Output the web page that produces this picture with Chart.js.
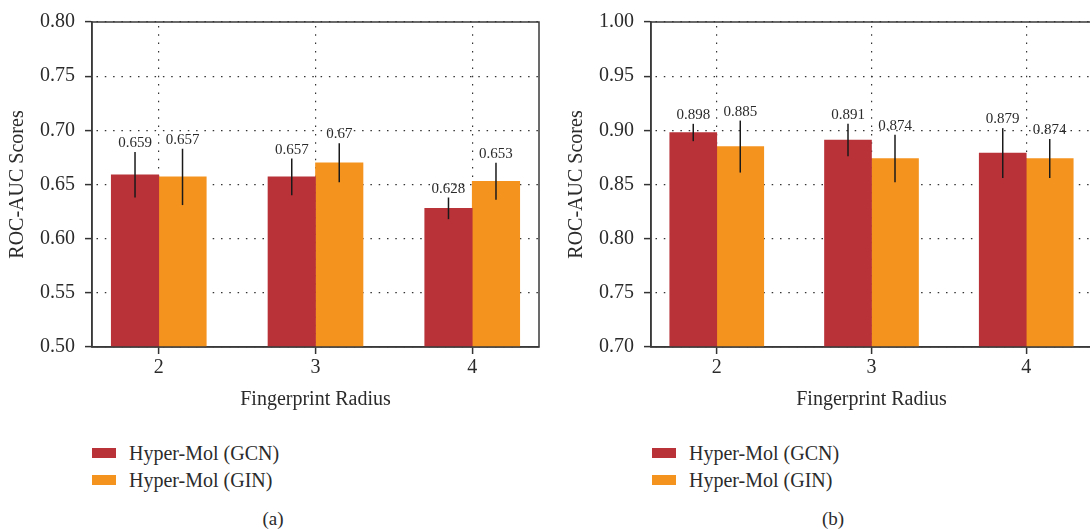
<!DOCTYPE html>
<html>
<head>
<meta charset="utf-8">
<script src="https://cdn.jsdelivr.net/npm/chart.js@4"></script>
<style>
  body { margin: 0; background: #fff; font-family: 'Liberation Serif', serif; color: #2b2b2b; }
  #wrap { position: relative; width: 1090px; height: 530px; overflow: hidden; }
  canvas { position: absolute; top: 0; }
  .row { position: absolute; height: 22px; display: flex; align-items: center; font-size: 20px; white-space: nowrap; }
  .sw { width: 24px; height: 9.5px; margin-right: 13px; }
  .cap { position: absolute; width: 60px; text-align: center; font-size: 19px; line-height: 22px; }
</style>
</head>
<body>
<div id="wrap">
  <canvas id="chartA" width="545" height="420" style="left:0"></canvas>
  <canvas id="chartB" width="539" height="420" style="left:559px"></canvas>

  <div class="row" style="left:92px;top:442px"><div class="sw" style="background:#b83238"></div>Hyper-Mol (GCN)</div>
  <div class="row" style="left:92px;top:469px"><div class="sw" style="background:#f5931f"></div>Hyper-Mol (GIN)</div>
  <div class="cap" style="left:243px;top:508px">(a)</div>

  <div class="row" style="left:652px;top:442px"><div class="sw" style="background:#b83238"></div>Hyper-Mol (GCN)</div>
  <div class="row" style="left:652px;top:469px"><div class="sw" style="background:#f5931f"></div>Hyper-Mol (GIN)</div>
  <div class="cap" style="left:803px;top:508px">(b)</div>
</div>
<script>
const radii = [2, 3, 4];
const seriesNames = ["Hyper-Mol (GCN)", "Hyper-Mol (GIN)"];
const colors = ["#b83238", "#f5931f"];

// panel (a)
const gcnA = [0.659, 0.657, 0.628];
const ginA = [0.657, 0.67, 0.653];
const gcnErrA = [0.021, 0.017, 0.010];
const ginErrA = [0.026, 0.018, 0.017];
const yTicksA = [0.5, 0.55, 0.6, 0.65, 0.7, 0.75, 0.8];

// panel (b)
const gcnB = [0.898, 0.891, 0.879];
const ginB = [0.885, 0.874, 0.874];
const gcnErrB = [0.008, 0.015, 0.023];
const ginErrB = [0.024, 0.022, 0.018];
const yTicksB = [0.7, 0.75, 0.8, 0.85, 0.9, 0.95, 1.0];

const font = "Liberation Serif";
Chart.defaults.font.family = font;
Chart.defaults.color = "#2b2b2b";

// frame round the plot, error bars and value labels
const extras = {
  id: "extras",
  afterDatasetsDraw(chart) {
    const ctx = chart.ctx;
    const a = chart.chartArea;
    const y = chart.scales.y;
    ctx.save();
    ctx.strokeStyle = "#3a3a3a";
    ctx.lineWidth = 1.5;
    ctx.strokeRect(a.left, a.top, a.right - a.left, a.bottom - a.top);

    ctx.font = "15px '" + font + "'";
    ctx.fillStyle = "#2b2b2b";
    ctx.textAlign = "center";
    ctx.textBaseline = "alphabetic";
    chart.data.datasets.forEach((ds, i) => {
      const meta = chart.getDatasetMeta(i);
      meta.data.forEach((bar, j) => {
        const v = ds.data[j].y;
        const e = ds.err[j];
        const top = y.getPixelForValue(v + e);
        const bot = y.getPixelForValue(v - e);
        ctx.strokeStyle = "#1a1a1a";
        ctx.lineWidth = 1.5;
        ctx.beginPath();
        ctx.moveTo(bar.x, top);
        ctx.lineTo(bar.x, bot);
        ctx.stroke();
        ctx.fillText(String(v), bar.x, top - 5);
      });
    });
    ctx.restore();
  }
};

const gridOpts = {
  offset: false,
  color: "#333",
  lineWidth: 1.2,
  tickLength: 7,
  tickColor: "#333",
  tickWidth: 1.5,
  tickBorderDash: [],
};
const borderOpts = { color: "#3a3a3a", width: 1.5, dash: [1.5, 6.8], dashOffset: -4 };

function makePanel(id, gcn, gin, gcnErr, ginErr, yTicks, xMin, xMax, barW) {
  return new Chart(document.getElementById(id), {
    type: "bar",
    data: {
      datasets: [
        {
          label: seriesNames[0],
          data: radii.map((r, i) => ({ x: r, y: gcn[i] })),
          err: gcnErr,
          backgroundColor: colors[0],
          barThickness: barW,
        },
        {
          label: seriesNames[1],
          data: radii.map((r, i) => ({ x: r, y: gin[i] })),
          err: ginErr,
          backgroundColor: colors[1],
          barThickness: barW,
        },
      ],
    },
    options: {
      responsive: false,
      animation: false,
      layout: { padding: { top: 22, right: 6, left: 0, bottom: 0 } },
      plugins: { legend: { display: false }, tooltip: { enabled: false } },
      scales: {
        x: {
          type: "linear",
          min: xMin,
          max: xMax,
          offset: false,
          afterBuildTicks: (s) => { s.ticks = radii.map((v) => ({ value: v })); },
          afterFit: (s) => { s.height = 73; },
          grid: gridOpts,
          border: borderOpts,
          ticks: { color: "#2b2b2b", font: { family: font, size: 20 }, padding: 2 },
          title: {
            display: true,
            text: "Fingerprint Radius",
            color: "#2b2b2b",
            font: { family: font, size: 20 },
            padding: { top: 0, bottom: 8 },
          },
        },
        y: {
          min: yTicks[0],
          max: yTicks[yTicks.length - 1],
          beginAtZero: false,
          afterBuildTicks: (s) => { s.ticks = yTicks.map((v) => ({ value: v })); },
          afterFit: (s) => { s.width = 92; },
          grid: gridOpts,
          border: borderOpts,
          ticks: {
            color: "#2b2b2b",
            font: { family: font, size: 20 },
            padding: 10,
            callback: (v) => Number(v).toFixed(2),
          },
          title: {
            display: true,
            text: "ROC-AUC Scores",
            color: "#2b2b2b",
            font: { family: font, size: 20 },
            padding: { top: 6, bottom: 0 },
          },
        },
      },
    },
    plugins: [extras],
  });
}

makePanel("chartA", gcnA, ginA, gcnErrA, ginErrA, yTicksA, 1.574, 4.426, 47.5);
makePanel("chartB", gcnB, ginB, gcnErrB, ginErrB, yTicksB, 1.575, 4.425, 47);
</script>
</body>
</html>
